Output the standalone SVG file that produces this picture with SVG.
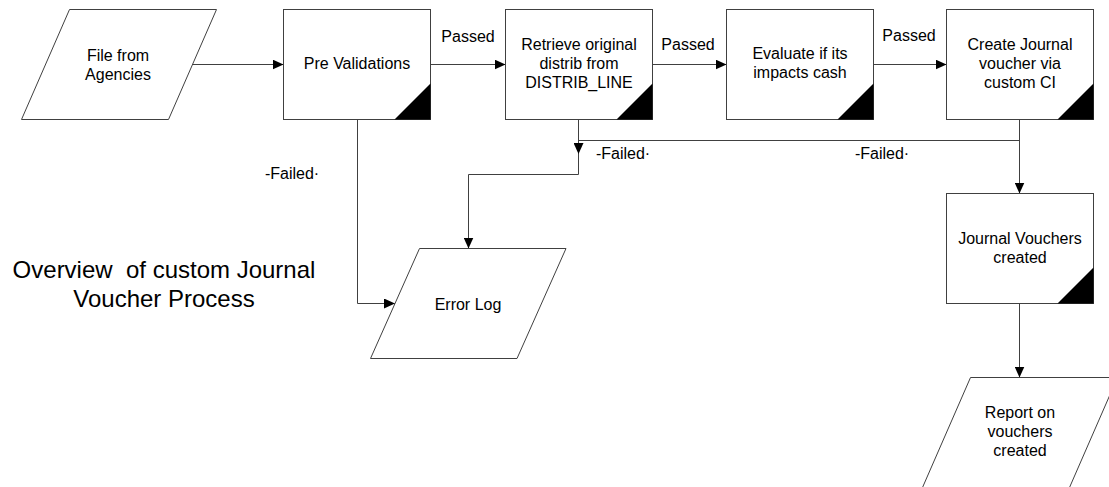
<svg xmlns="http://www.w3.org/2000/svg" width="1109" height="487" viewBox="0 0 1109 487">
  <style>
    .shape { fill: #ffffff; stroke: #404040; stroke-width: 1; }
    .corner { fill: #000000; stroke: none; }
    .label { font-family: "Liberation Sans", Arial, sans-serif; font-size: 16px; fill: #000000; text-anchor: middle; }
    .title { font-family: "Liberation Sans", Arial, sans-serif; font-size: 24px; fill: #000000; text-anchor: middle; white-space: pre; }
    .wire { fill: none; stroke: #404040; stroke-width: 1; }
  </style>
  <defs>
    <marker id="arrow" viewBox="0 0 11 10" refX="11" refY="5" markerWidth="11" markerHeight="10" markerUnits="userSpaceOnUse" orient="auto">
      <path d="M0,0 L11,5 L0,10 Z" fill="#000000"/>
    </marker>
  </defs>

  <rect width="1109" height="487" fill="#ffffff"/>

  <!-- title -->
  <text class="title" x="164" y="278" xml:space="preserve">Overview  of custom Journal</text>
  <text class="title" x="164" y="307">Voucher Process</text>

  <!-- connectors -->
  <g id="connectors">
    <path class="wire" d="M192,64.5 H283.5" marker-end="url(#arrow)"/>
    <path class="wire" d="M430.5,64.5 H505.5" marker-end="url(#arrow)"/>
    <path class="wire" d="M652.5,64.5 H726.5" marker-end="url(#arrow)"/>
    <path class="wire" d="M873.5,64.5 H946.5" marker-end="url(#arrow)"/>
    <path class="wire" d="M1019.5,119.5 V193.5" marker-end="url(#arrow)"/>
    <path class="wire" d="M1019.5,303.5 V377.5" marker-end="url(#arrow)"/>
    <path class="wire" d="M357.5,119.5 V303.5 H395" marker-end="url(#arrow)"/>
    <path class="wire" d="M578.5,119.5 V174.5 H468.5 V248.5" marker-end="url(#arrow)"/>
    <path class="wire" d="M1019.5,140.5 H578.5 V154" marker-end="url(#arrow)"/>

    <text class="label" x="468" y="42">Passed</text>
    <text class="label" x="688" y="50">Passed</text>
    <text class="label" x="909" y="41">Passed</text>
    <text class="label" x="292" y="179">-Failed·</text>
    <text class="label" x="623" y="159">-Failed·</text>
    <text class="label" x="882" y="159">-Failed·</text>
  </g>

  <!-- nodes -->
  <g id="file-from-agencies">
    <polygon class="shape" points="69.5,9.5 216.5,9.5 168.5,119.5 21.5,119.5"/>
    <text class="label" x="118" y="61">File from</text>
    <text class="label" x="118" y="80">Agencies</text>
  </g>

  <g id="pre-validations">
    <rect class="shape" x="283.5" y="9.5" width="147" height="110"/>
    <polygon class="corner" points="394.5,119.5 430.5,119.5 430.5,83.5"/>
    <text class="label" x="357" y="69">Pre Validations</text>
  </g>

  <g id="retrieve-distrib">
    <rect class="shape" x="505.5" y="9.5" width="147" height="110"/>
    <polygon class="corner" points="616.5,119.5 652.5,119.5 652.5,83.5"/>
    <text class="label" x="579" y="50">Retrieve original</text>
    <text class="label" x="579" y="69">distrib from</text>
    <text class="label" x="579" y="88">DISTRIB_LINE</text>
  </g>

  <g id="evaluate-cash">
    <rect class="shape" x="726.5" y="9.5" width="147" height="110"/>
    <polygon class="corner" points="837.5,119.5 873.5,119.5 873.5,83.5"/>
    <text class="label" x="800" y="59">Evaluate if its</text>
    <text class="label" x="800" y="78">impacts cash</text>
  </g>

  <g id="create-voucher">
    <rect class="shape" x="946.5" y="9.5" width="147" height="110"/>
    <polygon class="corner" points="1057.5,119.5 1093.5,119.5 1093.5,83.5"/>
    <text class="label" x="1020" y="50">Create Journal</text>
    <text class="label" x="1020" y="69">voucher via</text>
    <text class="label" x="1020" y="88">custom CI</text>
  </g>

  <g id="journal-vouchers-created">
    <rect class="shape" x="946.5" y="193.5" width="147" height="110"/>
    <polygon class="corner" points="1057.5,303.5 1093.5,303.5 1093.5,267.5"/>
    <text class="label" x="1020" y="244">Journal Vouchers</text>
    <text class="label" x="1020" y="263">created</text>
  </g>

  <g id="error-log">
    <polygon class="shape" points="419.5,248.5 566,248.5 517,358.5 370.5,358.5"/>
    <text class="label" x="468" y="310">Error Log</text>
  </g>

  <g id="report-on-vouchers">
    <polygon class="shape" points="970.5,377.5 1117.5,377.5 1069.5,487.5 922.5,487.5"/>
    <text class="label" x="1020" y="418">Report on</text>
    <text class="label" x="1020" y="437">vouchers</text>
    <text class="label" x="1020" y="456">created</text>
  </g>
</svg>
